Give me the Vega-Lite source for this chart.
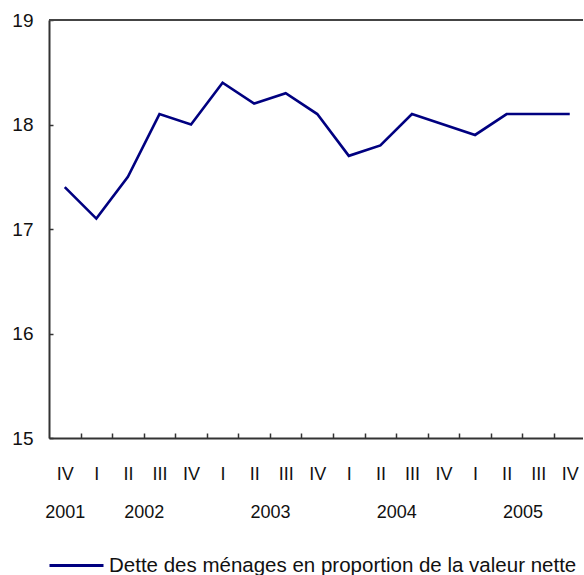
{
  "$schema": "https://vega.github.io/schema/vega-lite/v6.json",
  "width": 534,
  "height": 418,
  "autosize": {"type": "none"},
  "padding": {"left": 49, "top": 20, "right": 0, "bottom": 137},
  "background": "#ffffff",
  "config": {
    "font": "Liberation Sans",
    "view": {"stroke": "#c8c8c8", "strokeWidth": 1},
    "axis": {"grid": false, "domainColor": "#333333", "domainWidth": 2, "tickColor": "#333333", "tickWidth": 1.5, "labelColor": "#111111", "labelFontSize": 18, "title": null}
  },
  "data": {
    "values": [
      {"i": 1, "quarter": "IV", "year": 2001, "value": 17.4, "series": "Dette des ménages en proportion de la valeur nette"},
      {"i": 2, "quarter": "I", "year": 2002, "value": 17.1, "series": "Dette des ménages en proportion de la valeur nette"},
      {"i": 3, "quarter": "II", "year": 2002, "value": 17.5, "series": "Dette des ménages en proportion de la valeur nette"},
      {"i": 4, "quarter": "III", "year": 2002, "value": 18.1, "series": "Dette des ménages en proportion de la valeur nette"},
      {"i": 5, "quarter": "IV", "year": 2002, "value": 18.0, "series": "Dette des ménages en proportion de la valeur nette"},
      {"i": 6, "quarter": "I", "year": 2003, "value": 18.4, "series": "Dette des ménages en proportion de la valeur nette"},
      {"i": 7, "quarter": "II", "year": 2003, "value": 18.2, "series": "Dette des ménages en proportion de la valeur nette"},
      {"i": 8, "quarter": "III", "year": 2003, "value": 18.3, "series": "Dette des ménages en proportion de la valeur nette"},
      {"i": 9, "quarter": "IV", "year": 2003, "value": 18.1, "series": "Dette des ménages en proportion de la valeur nette"},
      {"i": 10, "quarter": "I", "year": 2004, "value": 17.7, "series": "Dette des ménages en proportion de la valeur nette"},
      {"i": 11, "quarter": "II", "year": 2004, "value": 17.8, "series": "Dette des ménages en proportion de la valeur nette"},
      {"i": 12, "quarter": "III", "year": 2004, "value": 18.1, "series": "Dette des ménages en proportion de la valeur nette"},
      {"i": 13, "quarter": "IV", "year": 2004, "value": 18.0, "series": "Dette des ménages en proportion de la valeur nette"},
      {"i": 14, "quarter": "I", "year": 2005, "value": 17.9, "series": "Dette des ménages en proportion de la valeur nette"},
      {"i": 15, "quarter": "II", "year": 2005, "value": 18.1, "series": "Dette des ménages en proportion de la valeur nette"},
      {"i": 16, "quarter": "III", "year": 2005, "value": 18.1, "series": "Dette des ménages en proportion de la valeur nette"},
      {"i": 17, "quarter": "IV", "year": 2005, "value": 18.1, "series": "Dette des ménages en proportion de la valeur nette"}
    ]
  },
  "layer": [
    {
      "mark": {"type": "rule", "color": "#444444", "strokeWidth": 2},
      "encoding": {
        "y": {"datum": 19, "type": "quantitative"}
      }
    },
    {
      "mark": {"type": "line", "strokeWidth": 2.6, "interpolate": "linear"},
      "encoding": {
        "x": {
          "field": "i",
          "type": "quantitative",
          "scale": {"domain": [0.5, 17.42], "nice": false, "zero": false},
          "axis": {
            "orient": "bottom",
            "values": [1, 1.5, 2, 2.5, 3, 3.5, 4, 4.5, 5, 5.5, 6, 6.5, 7, 7.5, 8, 8.5, 9, 9.5, 10, 10.5, 11, 11.5, 12, 12.5, 13, 13.5, 14, 14.5, 15, 15.5, 16, 16.5, 17],
            "labelExpr": "datum.value % 1 == 0 ? (datum.value == 1 ? ['IV', '2001'] : [['I', 'II', 'III', 'IV'][(datum.value - 2) % 4]]) : (indexof([3.5, 7.5, 11.5, 15.5], datum.value) >= 0 ? ['', ['2002', '2003', '2004', '2005'][indexof([3.5, 7.5, 11.5, 15.5], datum.value)]] : '')",
            "labelOverlap": false,
            "labelFlush": false,
            "labelBound": false,
            "labelBaseline": "top",
            "labelAlign": "center",
            "labelLineHeight": 38,
            "labelPadding": 32,
            "tickSize": -5,
            "tickOpacity": {"condition": {"test": "datum.value % 1 != 0", "value": 1}, "value": 0}
          }
        },
        "y": {
          "field": "value",
          "type": "quantitative",
          "scale": {"domain": [15, 19], "nice": false, "zero": false},
          "axis": {
            "values": [15, 16, 17, 18, 19],
            "format": "d",
            "tickSize": -4,
            "labelPadding": 20,
            "labelFontSize": 19,
            "labelFlush": false
          }
        },
        "color": {
          "field": "series",
          "type": "nominal",
          "scale": {"range": ["#000080"]},
          "legend": {
            "title": null,
            "orient": "none",
            "legendX": -1,
            "legendY": 517,
            "padding": 0,
            "symbolType": "stroke",
            "symbolSize": 2916,
            "symbolStrokeWidth": 3,
            "labelFontSize": 20.5,
            "labelColor": "#111111",
            "labelOffset": 4,
            "labelLimit": 700
          }
        }
      }
    }
  ]
}
